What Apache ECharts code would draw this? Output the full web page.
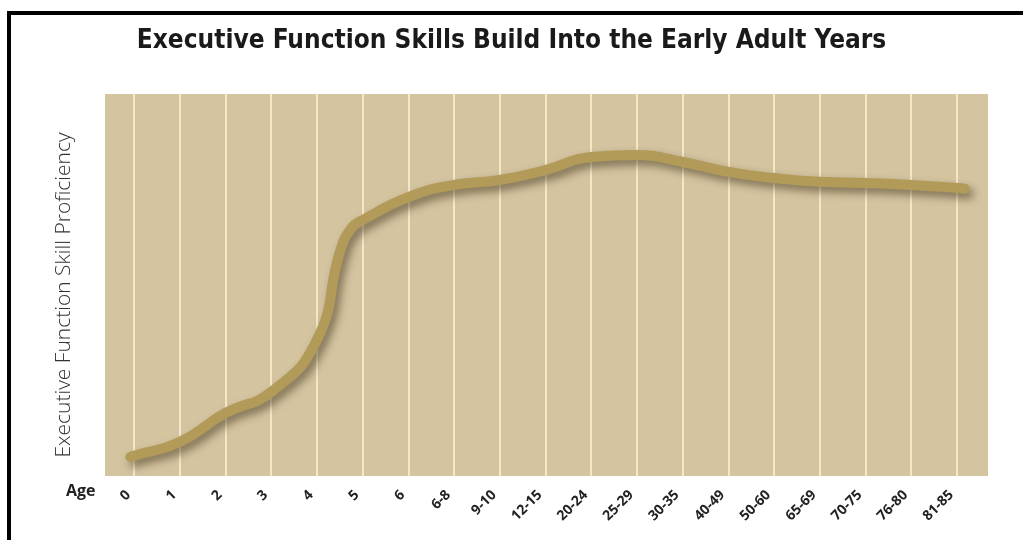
<!DOCTYPE html>
<html lang="en">
  <head>
    <meta charset="UTF-8" />
    <title>Executive Function Skills</title>
    <script src="https://cdn.jsdelivr.net/npm/echarts@6.0.0/dist/echarts.min.js"></script>
    <style>
      body {
        margin: 0;
        background: #fff;
      }
      #chart {
        position: absolute;
        left: 0;
        top: 0;
        width: 1023px;
        height: 540px;
      }
      #frame {
        position: absolute;
        left: 7px;
        top: 11px;
        width: 1020px;
        height: 540px;
        border-top: 4px solid #000;
        border-left: 4px solid #000;
        pointer-events: none;
      }
    </style>
  </head>
  <body>
    <div id="chart"></div>
    <div id="frame"></div>
  </body>
</html>
<script>
  // age groups along the bottom
  const ageGroups = ["0", "1", "2", "3", "4", "5", "6", "6-8", "9-10", "12-15", "20-24",
    "25-29", "30-35", "40-49", "50-60", "65-69", "70-75", "76-80", "81-85"];
  // position of each read point on the age axis (index of age group)
  const curvePos = [-0.08, 0, 1, 2, 3, 4, 4.5, 4.75, 5, 6, 7, 8, 9, 10, 11, 12, 13, 14, 15, 16, 17, 18, 18.17];
  // proficiency (0 = bottom of the panel, 100 = top)
  const proficiency = [5.0, 5.3, 8.9, 16.5, 22.0, 35.6, 58.5, 64.8, 67.0, 73.0, 76.2, 77.5, 80.1, 83.5,
    84.0, 82.2, 79.6, 78.0, 77.0, 76.7, 76.2, 75.4, 75.2];

  const tickIdx = ageGroups.map((_, i) => i);

  const chart = echarts.init(document.getElementById("chart"));
  const option = {
    animation: false,
    title: {
      text: "Executive Function Skills Build Into the Early Adult Years",
      left: "center",
      top: 23,
      textStyle: {
        fontFamily: "DejaVu Sans Condensed",
        fontWeight: "bold",
        fontSize: 26,
        color: "#1a1a1a",
      },
    },
    grid: {
      left: 105,
      right: 35,
      top: 94,
      bottom: 64,
      show: true,
      backgroundColor: "#d4c4a0",
      borderWidth: 0,
    },
    xAxis: {
      type: "value",
      min: -0.634,
      max: 18.68,
      axisLine: { show: false },
      axisTick: { show: false, customValues: tickIdx },
      axisLabel: {
        customValues: tickIdx,
        rotate: 45,
        margin: 11,
        padding: [0, 8, 0, 0],
        fontFamily: "Open Sans",
        fontWeight: "bold",
        fontSize: 14,
        color: "#222",
        formatter: (v) => ageGroups[Math.round(v)],
      },
      splitLine: {
        show: true,
        lineStyle: { color: "#f5e8c6", width: 2 },
      },
    },
    yAxis: {
      type: "value",
      min: 0,
      max: 100,
      name: "Executive Function Skill Proficiency",
      nameLocation: "middle",
      nameGap: 30,
      nameTextStyle: {
        fontFamily: "Open Sans",
        fontWeight: 300,
        fontSize: 21,
        color: "#333",
        padding: [0, 20, 0, 0],
      },
      axisLine: { show: false },
      axisTick: { show: false },
      axisLabel: { show: false },
      splitLine: { show: false },
    },
    graphic: [
      {
        type: "text",
        left: 66,
        top: 483,
        style: {
          text: "Age",
          fontFamily: "Open Sans",
          fontWeight: "bold",
          fontSize: 16,
          fill: "#222",
        },
      },
    ],
    series: [
      {
        type: "line",
        data: curvePos.map((x, i) => [x, proficiency[i]]),
        smooth: 0.5,
        showSymbol: false,
        lineStyle: {
          color: "#b29a58",
          width: 10,
          cap: "round",
          shadowColor: "rgba(55,42,18,0.55)",
          shadowBlur: 8,
          shadowOffsetX: 4,
          shadowOffsetY: 5,
        },
      },
    ],
  };
  chart.setOption(option);
</script>
